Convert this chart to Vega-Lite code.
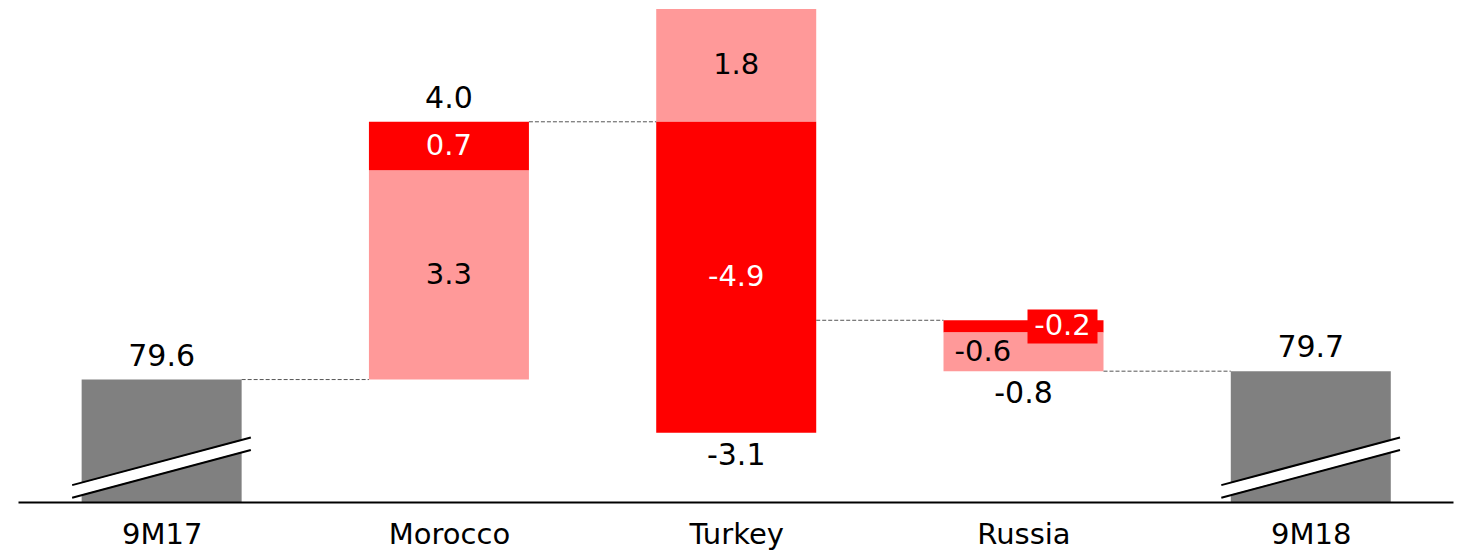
{
  "$schema": "https://vega.github.io/schema/vega-lite/v6.json",
  "width": 1435,
  "height": 502,
  "autosize": {"type": "none"},
  "padding": {"left": 18, "top": 0, "right": 4, "bottom": 49},
  "background": "white",
  "config": {
    "view": {"stroke": null},
    "axisX": {
      "domainColor": "black",
      "domainWidth": 2,
      "ticks": false,
      "tickSize": 0,
      "grid": false,
      "labelFont": "DejaVu Sans",
      "labelFontSize": 29,
      "labelColor": "black",
      "labelPadding": 18,
      "title": null
    }
  },
  "datasets": {
    "segments": [
      {"cat": "9M17", "idx": 0, "y0": 77.7, "y1": 79.6, "kind": "total", "label": "79.6"},
      {"cat": "Morocco", "idx": 1, "y0": 79.6, "y1": 82.85, "kind": "light", "label": "3.3"},
      {"cat": "Morocco", "idx": 1, "y0": 82.85, "y1": 83.6, "kind": "dark", "label": "0.7"},
      {"cat": "Turkey", "idx": 2, "y0": 83.6, "y1": 85.35, "kind": "light", "label": "1.8"},
      {"cat": "Turkey", "idx": 2, "y0": 78.775, "y1": 83.6, "kind": "dark", "label": "-4.9"},
      {"cat": "Russia", "idx": 3, "y0": 80.33, "y1": 80.52, "kind": "dark", "label": "-0.2"},
      {"cat": "Russia", "idx": 3, "y0": 79.73, "y1": 80.33, "kind": "light", "label": "-0.6"},
      {"cat": "9M18", "idx": 4, "y0": 77.7, "y1": 79.73, "kind": "total", "label": "79.7"}
    ],
    "connectors": [
      {"from": 0, "to": 1, "level": 79.6},
      {"from": 1, "to": 2, "level": 83.6},
      {"from": 2, "to": 3, "level": 80.52},
      {"from": 3, "to": 4, "level": 79.73}
    ],
    "totals": [
      {"cat": "9M17", "idx": 0, "anchor": 79.6, "label": "79.6", "side": "above"},
      {"cat": "Morocco", "idx": 1, "anchor": 83.6, "label": "4.0", "side": "above"},
      {"cat": "Turkey", "idx": 2, "anchor": 78.775, "label": "-3.1", "side": "below"},
      {"cat": "Russia", "idx": 3, "anchor": 79.73, "label": "-0.8", "side": "below"},
      {"cat": "9M18", "idx": 4, "anchor": 79.73, "label": "79.7", "side": "above"}
    ]
  },
  "layer": [
    {
      "data": {"name": "segments"},
      "mark": {"type": "bar", "width": 160},
      "encoding": {
        "x": {
          "field": "idx",
          "type": "quantitative",
          "title": null,
          "scale": {"domain": [-0.5, 4.495], "nice": false, "zero": false, "padding": 0},
          "axis": {
            "values": [0, 1, 2, 3, 4],
            "labelExpr": "['9M17','Morocco','Turkey','Russia','9M18'][datum.value]",
            "zindex": 1
          }
        },
        "y": {
          "field": "y0",
          "type": "quantitative",
          "title": null,
          "scale": {"domain": [77.7, 85.49], "nice": false, "zero": false, "padding": 0},
          "axis": null
        },
        "y2": {"field": "y1"},
        "color": {
          "field": "kind",
          "type": "nominal",
          "scale": {"domain": ["total", "light", "dark"], "range": ["#808080", "#FF9999", "#FF0000"]},
          "legend": null
        }
      }
    },
    {
      "data": {"name": "connectors"},
      "mark": {"type": "rule", "strokeDash": [4, 2], "color": "#555555", "strokeWidth": 1, "xOffset": 80, "x2Offset": -80},
      "encoding": {
        "x": {"field": "from", "type": "quantitative", "title": null},
        "x2": {"field": "to"},
        "y": {"field": "level", "type": "quantitative", "title": null}
      }
    },
    {
      "data": {"name": "segments"},
      "transform": [{"filter": "datum.kind === 'total'"}],
      "mark": {"type": "rule", "color": "white", "strokeWidth": 11, "xOffset": -89.5, "x2Offset": 89.2},
      "encoding": {
        "x": {"field": "idx", "type": "quantitative", "title": null},
        "x2": {"field": "idx"},
        "y": {"datum": 77.864, "type": "quantitative"},
        "y2": {"datum": 78.604}
      }
    },
    {
      "data": {"name": "segments"},
      "transform": [{"filter": "datum.kind === 'total'"}],
      "mark": {"type": "rule", "color": "black", "strokeWidth": 2, "xOffset": -89.5, "x2Offset": 89.2, "yOffset": -6.3, "y2Offset": -6.3},
      "encoding": {
        "x": {"field": "idx", "type": "quantitative", "title": null},
        "x2": {"field": "idx"},
        "y": {"datum": 77.864, "type": "quantitative"},
        "y2": {"datum": 78.604}
      }
    },
    {
      "data": {"name": "segments"},
      "transform": [{"filter": "datum.kind === 'total'"}],
      "mark": {"type": "rule", "color": "black", "strokeWidth": 2, "xOffset": -89.5, "x2Offset": 89.2, "yOffset": 6.3, "y2Offset": 6.3},
      "encoding": {
        "x": {"field": "idx", "type": "quantitative", "title": null},
        "x2": {"field": "idx"},
        "y": {"datum": 77.864, "type": "quantitative"},
        "y2": {"datum": 78.604}
      }
    },
    {
      "data": {"name": "segments"},
      "transform": [
        {"filter": "datum.cat === 'Russia' && datum.kind === 'dark'"},
        {"calculate": "(datum.y0 + datum.y1) / 2", "as": "mid"}
      ],
      "mark": {"type": "point", "shape": "M-1,-0.486L1,-0.486L1,0.486L-1,0.486Z", "size": 4900, "filled": true, "color": "#FF0000", "opacity": 1, "strokeWidth": 0, "xOffset": 39},
      "encoding": {
        "x": {"field": "idx", "type": "quantitative", "title": null},
        "y": {"field": "mid", "type": "quantitative", "title": null}
      }
    },
    {
      "data": {"name": "segments"},
      "transform": [
        {"filter": "datum.cat === 'Morocco' || datum.cat === 'Turkey'"},
        {"calculate": "(datum.y0 + datum.y1) / 2", "as": "mid"}
      ],
      "mark": {"type": "text", "font": "DejaVu Sans", "fontSize": 29, "baseline": "middle", "align": "center"},
      "encoding": {
        "x": {"field": "idx", "type": "quantitative", "title": null},
        "y": {"field": "mid", "type": "quantitative", "title": null},
        "text": {"field": "label"},
        "color": {"condition": {"test": "datum.kind === 'dark'", "value": "white"}, "value": "black"}
      }
    },
    {
      "data": {"name": "segments"},
      "transform": [
        {"filter": "datum.cat === 'Russia' && datum.kind === 'dark'"},
        {"calculate": "(datum.y0 + datum.y1) / 2", "as": "mid"}
      ],
      "mark": {"type": "text", "font": "DejaVu Sans", "fontSize": 29, "baseline": "middle", "align": "center", "dx": 39, "color": "white"},
      "encoding": {
        "x": {"field": "idx", "type": "quantitative", "title": null},
        "y": {"field": "mid", "type": "quantitative", "title": null},
        "text": {"field": "label"}
      }
    },
    {
      "data": {"name": "segments"},
      "transform": [
        {"filter": "datum.cat === 'Russia' && datum.kind === 'light'"},
        {"calculate": "(datum.y0 + datum.y1) / 2", "as": "mid"}
      ],
      "mark": {"type": "text", "font": "DejaVu Sans", "fontSize": 29, "baseline": "middle", "align": "center", "dx": -40.7, "color": "black"},
      "encoding": {
        "x": {"field": "idx", "type": "quantitative", "title": null},
        "y": {"field": "mid", "type": "quantitative", "title": null},
        "text": {"field": "label"}
      }
    },
    {
      "data": {"name": "totals"},
      "transform": [{"filter": "datum.side === 'above'"}],
      "mark": {"type": "text", "font": "DejaVu Sans", "fontSize": 30, "baseline": "alphabetic", "align": "center", "dy": -14, "color": "black"},
      "encoding": {
        "x": {"field": "idx", "type": "quantitative", "title": null},
        "y": {"field": "anchor", "type": "quantitative", "title": null},
        "text": {"field": "label"}
      }
    },
    {
      "data": {"name": "totals"},
      "transform": [{"filter": "datum.side === 'below'"}],
      "mark": {"type": "text", "font": "DejaVu Sans", "fontSize": 30, "baseline": "alphabetic", "align": "center", "dy": 32, "color": "black"},
      "encoding": {
        "x": {"field": "idx", "type": "quantitative", "title": null},
        "y": {"field": "anchor", "type": "quantitative", "title": null},
        "text": {"field": "label"}
      }
    }
  ]
}
